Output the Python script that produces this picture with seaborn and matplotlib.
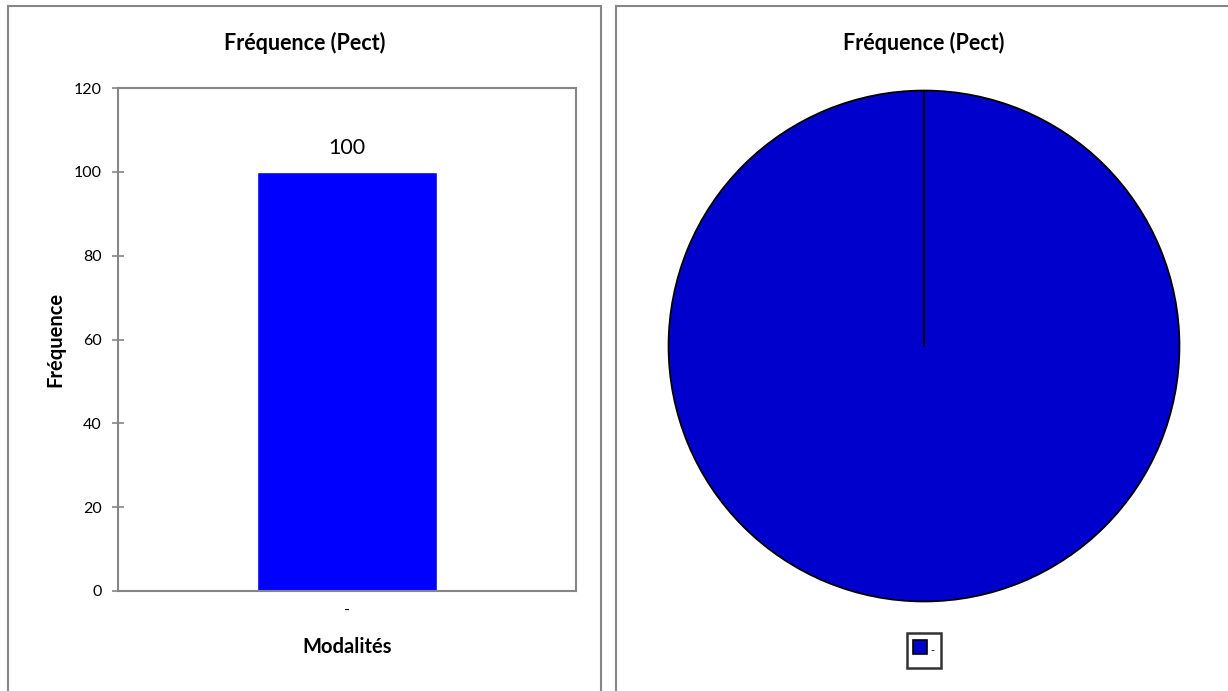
import matplotlib
matplotlib.use("Agg")
import matplotlib.pyplot as plt
from matplotlib.patches import Rectangle
from matplotlib.lines import Line2D
import seaborn as sns

# data
categories = ["-"]
values = [100]
title = "Fréquence (Pect)"

sns.set_style("white")
plt.rcParams['font.family'] = ['Lato', 'DejaVu Sans']
plt.rcParams['text.color'] = 'black'
plt.rcParams['axes.labelcolor'] = 'black'

W, H = 1228, 691
fig = plt.figure(figsize=(W / 100, H / 100), dpi=100)

grey = "#868686"
pie_blue = "#0000CC"

# panel frames
fig.patches.append(Rectangle((8 / W, -0.05), (601 - 8) / W, 1 - 6 / H + 0.05,
                             transform=fig.transFigure, fill=False,
                             edgecolor=grey, lw=1.5))
fig.patches.append(Rectangle((616 / W, -0.05), 0.5, 1 - 6 / H + 0.05,
                             transform=fig.transFigure, fill=False,
                             edgecolor=grey, lw=1.5))

# bar chart
ax = fig.add_axes([118 / W, 1 - 591 / H, (576 - 118) / W, (591 - 88) / H])
sns.barplot(x=categories, y=values, color="#0000FF", width=0.393,
            saturation=1, ax=ax)
ax.set_ylim(0, 120)
ax.set_yticks(range(0, 121, 20))
ax.set_xlim(-0.5, 0.5)
for s in ax.spines.values():
    s.set_color(grey)
    s.set_linewidth(1.5)
ax.tick_params(axis="y", direction="inout", length=9, width=1.2, color=grey,
               labelcolor="black", labelsize=11.5, pad=7, left=True)
ax.tick_params(axis="x", length=0, labelcolor="black", labelsize=11.5, pad=9)
ax.bar_label(ax.containers[0], fmt="%d", fontsize=15.5, padding=10,
             color="black")
ax.set_ylabel("Fréquence", fontsize=14.5, fontweight="bold")
ax.yaxis.set_label_coords((65 - 118) / 458, 0.5)
ax.set_xlabel("Modalités", fontsize=14.5, fontweight="bold")
ax.xaxis.set_label_coords(0.5, -(637 - 591) / 503)
fig.text(304.5 / W, 1 - 50 / H, title, ha="center", va="baseline",
         fontsize=15.5, fontweight="bold")

# pie chart
r = 258
cy = 346
ax2 = fig.add_axes([(924 - r) / W, 1 - (cy + r) / H, 2 * r / W, 2 * r / H])
wedges, _ = ax2.pie(values, colors=[pie_blue], startangle=90,
                    counterclock=False, radius=1,
                    wedgeprops=dict(edgecolor="black", linewidth=1.3))
ax2.plot([0, 0], [0, 1], color="black", lw=1.3)
ax2.set_xlim(-1.01, 1.01)
ax2.set_ylim(-1.01, 1.01)
ax2.set_aspect("equal")
ax2.axis("off")
handles = [Line2D([], [], marker="s", markersize=9.5, linestyle="none",
                  markerfacecolor=pie_blue, markeredgecolor="black",
                  markeredgewidth=1.2)]
leg = ax2.legend(handles, categories, loc="upper center",
                 bbox_to_anchor=(0.5, -(633 - 604) / 516), fontsize=8,
                 frameon=True, fancybox=False, edgecolor="black",
                 handlelength=1.2, handleheight=2.6, handletextpad=0.3,
                 borderpad=0.6, borderaxespad=0)
leg.get_frame().set_linewidth(1.8)
fig.text(924 / W, 1 - 50 / H, title, ha="center", va="baseline",
         fontsize=15.5, fontweight="bold")

fig.savefig("out.png", dpi=100)
